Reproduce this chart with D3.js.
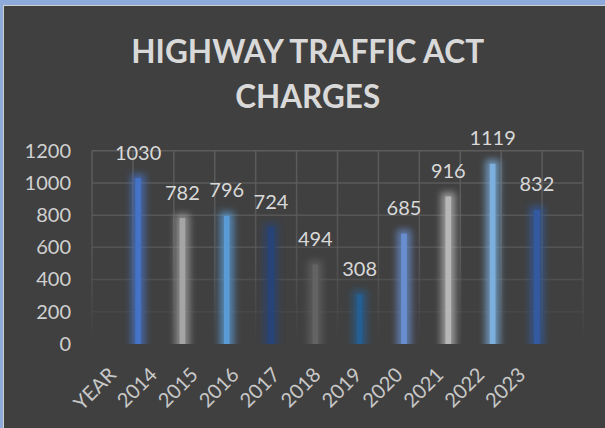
<!DOCTYPE html>
<html>
<head>
<meta charset="utf-8">
<script src="https://cdn.jsdelivr.net/npm/d3@7"></script>
<style>
  body { margin: 0; background: #8eaadb; }
  svg { display: block; }
  text { font-family: Lato, "Open Sans", sans-serif; }
</style>
</head>
<body>
<div class="chart"></div>
<script>
// values
var years = ["2014", "2015", "2016", "2017", "2018", "2019", "2020", "2021", "2022", "2023"];
var charges = [1030, 782, 796, 724, 494, 308, 685, 916, 1119, 832];
var axisLabels = ["YEAR", "2014", "2015", "2016", "2017", "2018", "2019", "2020", "2021", "2022", "2023"];
var yTicks = [0, 200, 400, 600, 800, 1000, 1200];
var barColors = ["#4472c4", "#a5a5a5", "#5b9bd5", "#264478", "#636363",
                 "#255e91", "#698ed0", "#b7b7b7", "#7cafdd", "#335aa1"];
var titleLines = ["HIGHWAY TRAFFIC ACT", "CHARGES"];
var titleWidths = [353, 145];

var width = 605, height = 428;
var plot = {left: 92, right: 583, top: 150.7, bottom: 344};

var svg = d3.select(".chart")
            .append("svg")
            .attr("width", width)
            .attr("height", height);

var defs = svg.append("defs");

// soft glow round each bar
defs.append("filter")
    .attr("id", "glow")
    .attr("x", "-300%").attr("width", "700%")
    .attr("y", "-20%").attr("height", "140%")
    .append("feGaussianBlur")
    .attr("stdDeviation", 3.5);

defs.append("clipPath")
    .attr("id", "plotClip")
    .append("rect")
    .attr("x", 0).attr("y", 0)
    .attr("width", width).attr("height", plot.bottom);

// gridlines fade out towards the bottom
var gridGrad = defs.append("linearGradient")
                   .attr("id", "gridFade")
                   .attr("gradientUnits", "userSpaceOnUse")
                   .attr("x1", 0).attr("x2", 0)
                   .attr("y1", plot.top).attr("y2", plot.bottom);
gridGrad.append("stop").attr("offset", "0%").attr("stop-color", "#5c5c5c").attr("stop-opacity", 1);
gridGrad.append("stop").attr("offset", "55%").attr("stop-color", "#5c5c5c").attr("stop-opacity", 0.7);
gridGrad.append("stop").attr("offset", "100%").attr("stop-color", "#5c5c5c").attr("stop-opacity", 0);

// chart background
svg.append("rect")
   .attr("x", 3.5).attr("y", 5.5)
   .attr("width", width).attr("height", height)
   .attr("fill", "#404040")
   .attr("stroke", "#cfcfcf")
   .attr("stroke-width", 1);

// title
svg.append("g")
   .selectAll("text")
   .data(titleLines)
   .enter()
   .append("text")
   .attr("x", 307.7)
   .attr("y", function(d, i) { return 63 + i * 44.5; })
   .attr("text-anchor", "middle")
   .attr("font-size", 33)
   .attr("font-weight", "bold")
   .attr("fill", "#d9d9d9")
   .attr("textLength", function(d, i) { return titleWidths[i]; })
   .attr("lengthAdjust", "spacingAndGlyphs")
   .text(function(d) { return d; });

// scales
var y = d3.scaleLinear()
          .domain([0, 1200])
          .range([plot.bottom, plot.top]);

var gx = d3.scaleLinear()
           .domain([0, 12])
           .range([plot.left, plot.right]);

var xLabel = d3.scaleBand()
               .domain(axisLabels)
               .range([gx(0), gx(11)]);

var xBar = d3.scaleBand()
             .domain(years)
             .range([plot.left, plot.right])
             .paddingOuter(0.54);

// gridlines
var grid = svg.append("g").attr("class", "grid");
grid.selectAll("line.h")
    .data(yTicks.filter(function(d) { return d > 0; }))
    .enter()
    .append("line")
    .attr("class", "h")
    .attr("x1", plot.left).attr("x2", plot.right)
    .attr("y1", function(d) { return y(d); })
    .attr("y2", function(d) { return y(d); })
    .attr("stroke", "url(#gridFade)")
    .attr("stroke-width", 1.5);

grid.selectAll("line.v")
    .data(gx.ticks(12))
    .enter()
    .append("line")
    .attr("class", "v")
    .attr("x1", function(d) { return gx(d); })
    .attr("x2", function(d) { return gx(d); })
    .attr("y1", plot.top).attr("y2", plot.bottom)
    .attr("stroke", "url(#gridFade)")
    .attr("stroke-width", 1.5);

// y axis
var yAxis = svg.append("g")
               .attr("transform", "translate(72,0)")
               .call(d3.axisLeft(y).tickValues(yTicks).tickFormat(d3.format("d"))
                       .tickSize(0).tickPadding(1));
yAxis.select(".domain").remove();
yAxis.selectAll("text")
     .attr("font-family", "Lato, 'Open Sans', sans-serif")
     .attr("font-size", 20)
     .attr("fill", "#d0d0d0");

// x axis labels, tilted
var xAxis = svg.append("g")
               .attr("transform", "translate(0," + plot.bottom + ")")
               .call(d3.axisBottom(xLabel).tickSize(0));
xAxis.select(".domain").remove();
xAxis.selectAll("text")
     .attr("font-family", "Lato, 'Open Sans', sans-serif")
     .attr("font-size", 20)
     .attr("fill", "#c8c8c8")
     .attr("text-anchor", "end")
     .attr("x", 0).attr("y", 0).attr("dy", null)
     .attr("transform", "translate(5,32) rotate(-45)");

// bars
var data = years.map(function(yr, i) { return {year: yr, value: charges[i], color: barColors[i]}; });
var barW = 5.7;
function cx(d) { return xBar(d.year) + xBar.bandwidth() / 2; }

var bars = svg.append("g").attr("clip-path", "url(#plotClip)");

bars.selectAll("rect.glow")
    .data(data)
    .enter()
    .append("rect")
    .attr("class", "glow")
    .attr("x", function(d) { return cx(d) - 7; })
    .attr("y", function(d) { return y(d.value) - 4; })
    .attr("width", 14)
    .attr("height", function(d) { return plot.bottom - y(d.value) + 10; })
    .attr("fill", function(d) { return d.color; })
    .attr("opacity", 0.75)
    .attr("filter", "url(#glow)");

bars.selectAll("rect.bar")
    .data(data)
    .enter()
    .append("rect")
    .attr("class", "bar")
    .attr("x", function(d) { return cx(d) - barW / 2; })
    .attr("y", function(d) { return y(d.value); })
    .attr("width", barW)
    .attr("height", function(d) { return plot.bottom - y(d.value); })
    .attr("fill", function(d) { return d.color; });

// data labels
svg.append("g")
   .selectAll("text")
   .data(data)
   .enter()
   .append("text")
   .attr("x", cx)
   .attr("y", function(d) { return y(d.value) - 18.5; })
   .attr("text-anchor", "middle")
   .attr("font-size", 20)
   .attr("fill", "#d9d9d9")
   .text(function(d) { return d.value; });
</script>
</body>
</html>
